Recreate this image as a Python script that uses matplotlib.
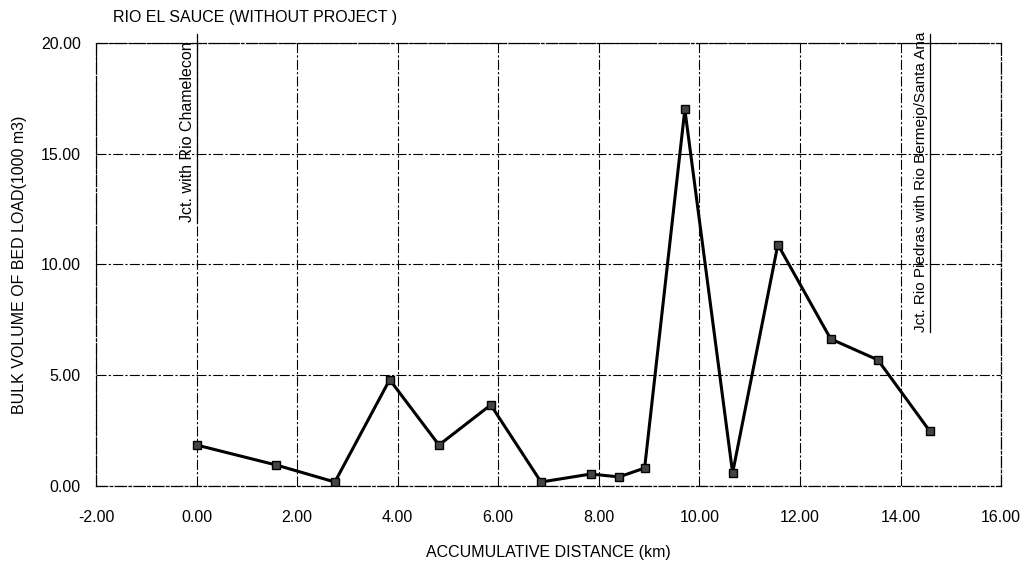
import numpy as np
import matplotlib.pyplot as plt

plt.rcParams['font.family'] = ['Liberation Sans', 'DejaVu Sans']

# accumulative distance (km) and bulk volume of bed load (1000 m3)
distance = [0.00, 1.58, 2.75, 3.84, 4.82, 5.85, 6.85, 7.84, 8.40, 8.91,
            9.71, 10.66, 11.56, 12.61, 13.55, 14.58]
bed_load = [1.85, 0.95, 0.18, 4.80, 1.85, 3.66, 0.18, 0.54, 0.41, 0.81,
            17.00, 0.59, 10.90, 6.64, 5.69, 2.48]

x_ticks = np.arange(-2, 17, 2)
y_ticks = np.arange(0, 21, 5)

# (distance, where the label starts, text, font size)
junctions = [(0.00, 11.9, 'Jct. with Rio Chamelecon', 11.5),
             (14.58, 6.95, 'Jct. Rio Piedras with Rio Bermejo/Santa Ana', 11)]

fs = 11.5

fig = plt.figure(figsize=(10.25, 5.64), dpi=100)
ax = fig.add_axes([0.0937, 0.1383, 0.883, 0.7855])

ax.set_xlim(-2, 16)
ax.set_ylim(0, 20)
ax.set_xticks(x_ticks)
ax.set_yticks(y_ticks)
ax.set_xticklabels([f'{v:.2f}' for v in x_ticks], fontsize=fs)
ax.set_yticklabels([f'{v:.2f}' for v in y_ticks], fontsize=fs)
ax.tick_params(axis='x', length=0, pad=17)
ax.tick_params(axis='y', length=0, pad=11)

dash = (0, (9, 2, 2, 2))
ax.grid(True, color='black', linewidth=0.8, linestyle=dash)
for sp in ax.spines.values():
    sp.set_linestyle(dash)
    sp.set_linewidth(0.9)

ax.plot(distance, bed_load, color='black', linewidth=2.2,
        marker='s', markersize=6, markerfacecolor='#444444',
        markeredgecolor='black', zorder=3)

# junction labels, written up along their distance line
for xj, y0, label, size in junctions:
    ax.text(xj - 0.04, y0, label, rotation=90, ha='right', va='bottom',
            fontsize=size, clip_on=False)
    ax.plot([xj, xj], [y0, 20.4], color='black', linewidth=0.9,
            clip_on=False, zorder=2)

fig.text(0.110, 0.955, 'RIO EL SAUCE (WITHOUT PROJECT )', fontsize=fs,
         ha='left', va='bottom')
ax.set_xlabel('ACCUMULATIVE DISTANCE (km)', fontsize=fs, labelpad=15)
ax.set_ylabel('BULK VOLUME OF BED LOAD(1000 m3)', fontsize=fs, labelpad=10)

fig.savefig('out.png', dpi=100)
